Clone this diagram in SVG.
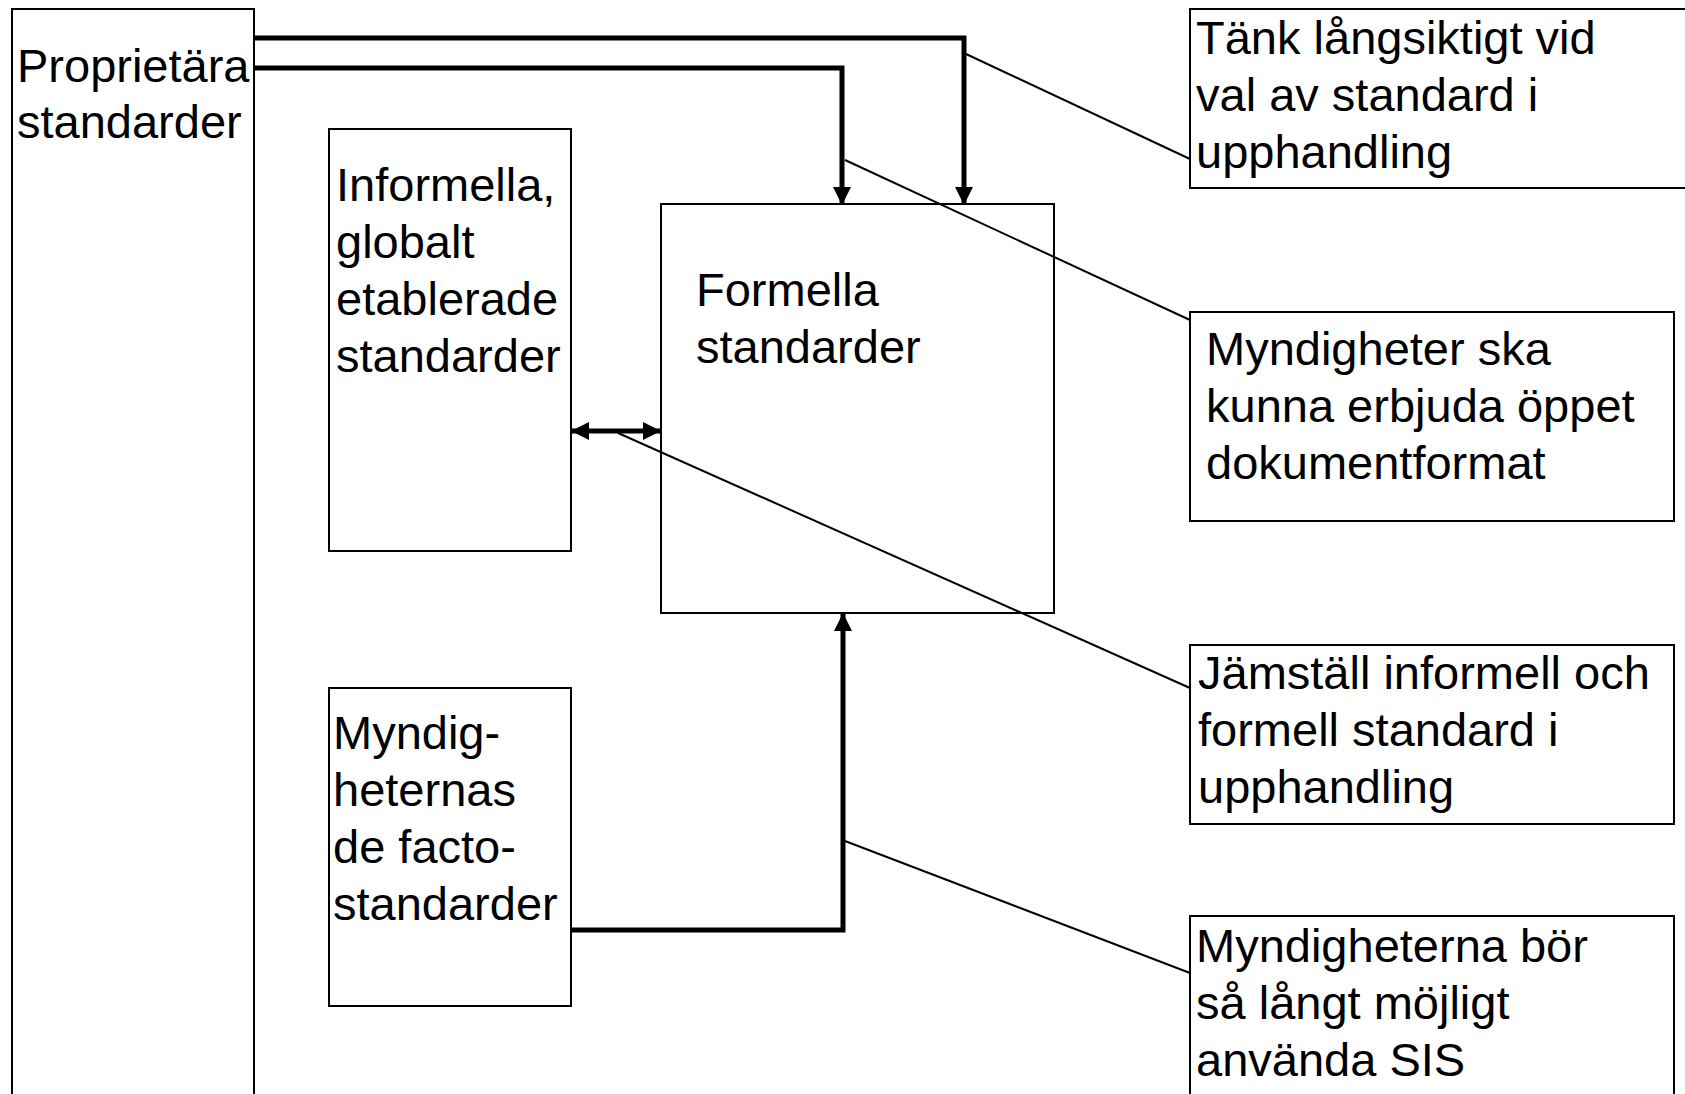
<svg xmlns="http://www.w3.org/2000/svg" width="1685" height="1094" viewBox="0 0 1685 1094">
<style>
.box{fill:#fff;stroke:#000;stroke-width:2}
.t{font-family:"Liberation Sans",Arial,sans-serif;font-size:47px;fill:#000}
.thick{fill:none;stroke:#000;stroke-width:5}
.thin{fill:none;stroke:#000;stroke-width:2}
</style>
<defs>
<marker id="ah" markerUnits="userSpaceOnUse" markerWidth="18" markerHeight="18" viewBox="0 0 18 18" refX="17" refY="9" orient="auto-start-reverse">
<path d="M0,0 L18,9 L0,18 Z" fill="#000"/>
</marker>
</defs>
<rect width="1685" height="1094" fill="#fff"/>
<g id="proprietara">
<rect class="box" x="12" y="9" width="242" height="1100"/>
<text class="t" x="17" y="82">Proprietära</text>
<text class="t" x="17" y="138">standarder</text>
</g>
<g id="informella">
<rect class="box" x="329" y="129" width="242" height="422"/>
<text class="t" x="336" y="201">Informella,</text>
<text class="t" x="336" y="258">globalt</text>
<text class="t" x="336" y="315">etablerade</text>
<text class="t" x="336" y="372">standarder</text>
</g>
<g id="formella">
<rect class="box" x="661" y="204" width="393" height="409"/>
<text class="t" x="696" y="306">Formella</text>
<text class="t" x="696" y="363">standarder</text>
</g>
<g id="myndigheternas">
<rect class="box" x="329" y="688" width="242" height="318"/>
<text class="t" x="333" y="749">Myndig-</text>
<text class="t" x="333" y="806">heternas</text>
<text class="t" x="333" y="863">de facto-</text>
<text class="t" x="333" y="920">standarder</text>
</g>
<g id="tank">
<rect class="box" x="1190" y="9" width="520" height="179"/>
<text class="t" x="1196" y="54">Tänk långsiktigt vid</text>
<text class="t" x="1196" y="111">val av standard i</text>
<text class="t" x="1196" y="168">upphandling</text>
</g>
<g id="myndigheter-ska">
<rect class="box" x="1190" y="312" width="484" height="209"/>
<text class="t" x="1206" y="365">Myndigheter ska</text>
<text class="t" x="1206" y="422">kunna erbjuda öppet</text>
<text class="t" x="1206" y="479">dokumentformat</text>
</g>
<g id="jamstall">
<rect class="box" x="1190" y="645" width="484" height="179"/>
<text class="t" x="1198" y="689">Jämställ informell och</text>
<text class="t" x="1198" y="746">formell standard i</text>
<text class="t" x="1198" y="803">upphandling</text>
</g>
<g id="myndigheterna-bor">
<rect class="box" x="1190" y="916" width="484" height="200"/>
<text class="t" x="1196" y="962">Myndigheterna bör</text>
<text class="t" x="1196" y="1019">så långt möjligt</text>
<text class="t" x="1196" y="1076">använda SIS</text>
</g>
<g id="connectors">
<polyline class="thick" points="254,38 964,38 964,204" marker-end="url(#ah)"/>
<polyline class="thick" points="254,68 842,68 842,204" marker-end="url(#ah)"/>
<polyline class="thick" points="571,930 843,930 843,614" marker-end="url(#ah)"/>
<line class="thick" x1="572" y1="431" x2="660" y2="431" stroke-width="4" marker-start="url(#ah)" marker-end="url(#ah)"/>
<line class="thin" x1="966" y1="54" x2="1190" y2="159"/>
<line class="thin" x1="845" y1="160" x2="1190" y2="320"/>
<line class="thin" x1="618" y1="433" x2="1190" y2="688"/>
<line class="thin" x1="845" y1="841" x2="1190" y2="973"/>
</g>
</svg>
